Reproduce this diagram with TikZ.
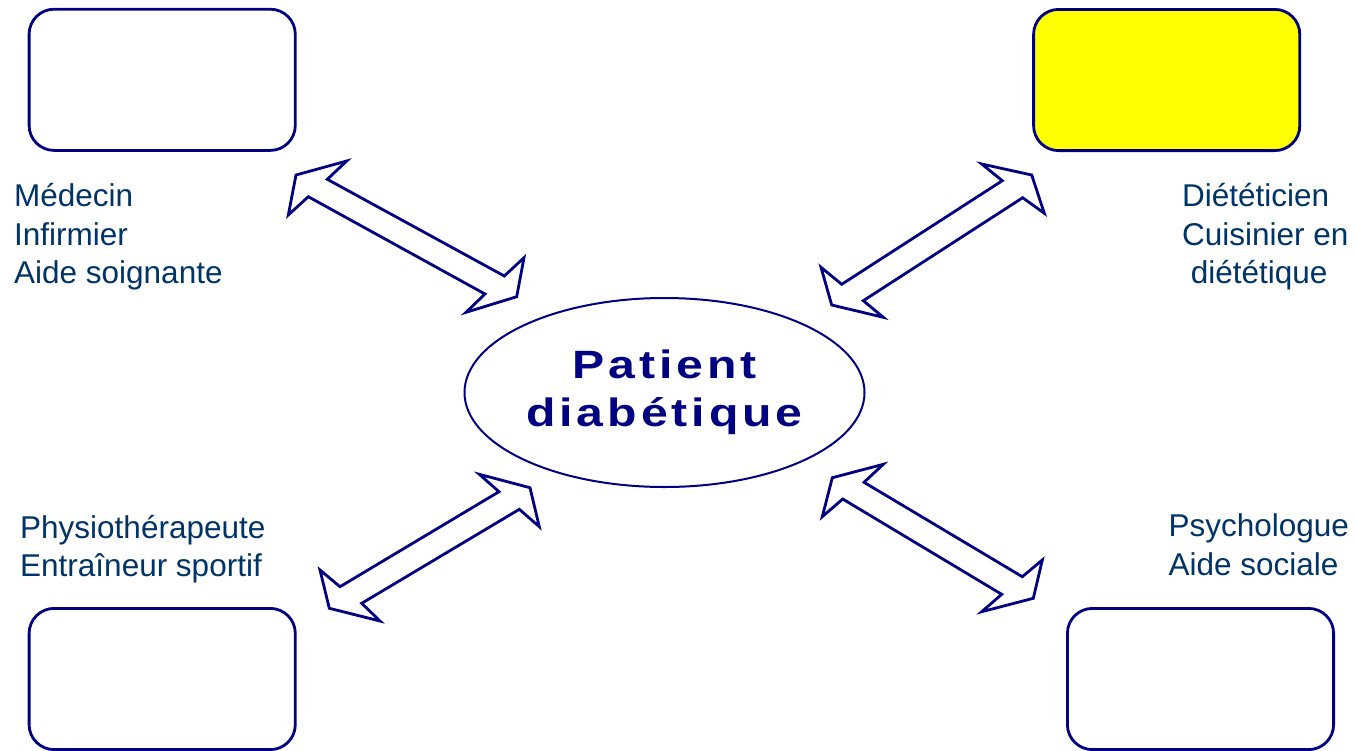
\documentclass[tikz,border=0pt]{standalone}
\usepackage{fontspec}
\setmainfont{Liberation Sans}
\newfontfamily\titlefont[LetterSpace=10,FakeStretch=1.22]{Liberation Sans}
\usetikzlibrary{shapes.geometric}
\definecolor{navy}{RGB}{0,0,128}
\definecolor{txtblue}{RGB}{0,51,102}
\definecolor{boxyellow}{RGB}{255,255,0}
\tikzset{
  roleBox/.style={draw=navy, line width=2.8pt, rounded corners=25pt, minimum width=266.2pt, minimum height=141.2pt, inner sep=0pt, fill=white},
  roleText/.style={text=txtblue, font=\fontsize{31.5}{38}\selectfont, anchor=base west, inner sep=0pt},
  blockArrow/.style={draw=navy, line width=2.8pt, fill=white, line join=miter},
  patientEllipse/.style={ellipse, draw=navy, line width=2pt, minimum width=400pt, minimum height=189pt, inner sep=0pt, text=navy, align=center, font=\titlefont\bfseries\fontsize{39.5}{48.3}\selectfont}
}
\begin{document}
\begin{tikzpicture}[x=1pt,y=-1pt]
\useasboundingbox (0,0) rectangle (1357,750);
\fill[white] (0,0) rectangle (1357,750);

% boxes
\node[roleBox] (tl) at (162.2,79.8) {};
\node[roleBox, fill=boxyellow] (tr) at (1166.7,80) {};
\node[roleBox] (bl) at (162.2,679) {};
\node[roleBox] (br) at (1200.5,679) {};

% central ellipse
\node[patientEllipse] (patient) at (664.5,392.5) {Patient\\diabétique};

% arrows
\draw[blockArrow] (346.7,161) -- (296,175) -- (288.3,215) -- (308.3,196.7) -- (485,294) -- (466,312.3) -- (516.7,296.7) -- (524,257.7) -- (504.3,276) -- (327.3,179.3) -- cycle;
\draw[blockArrow] (981.7,164) -- (1031.7,175) -- (1044.3,213.3) -- (1022.7,197.7) -- (863.3,300.7) -- (883.3,317.3) -- (831.7,305) -- (821,267.3) -- (841.7,284.3) -- (1002.3,180.7) -- cycle;
\draw[blockArrow] (479.3,474.3) -- (530,487.7) -- (539.3,526.7) -- (519.3,509.3) -- (361.7,603.3) -- (380,621) -- (329.3,608.3) -- (320,570) -- (340,586.7) -- (499,491.7) -- cycle;
\draw[blockArrow] (883.3,464.3) -- (832.3,477.7) -- (822.3,516.7) -- (842.7,499) -- (1001.7,594.3) -- (981.7,611.7) -- (1033.3,598.3) -- (1042.3,560) -- (1022.3,576.7) -- (864,482.3) -- cycle;

% texts
\node[roleText] (t1a) at (14,206.7) {Médecin};
\node[roleText] (t1b) at (14,245) {Infirmier};
\node[roleText] (t1c) at (14,283.3) {Aide soignante};

\node[roleText] (t2a) at (1182,206.7) {Diététicien};
\node[roleText] (t2b) at (1182,245) {Cuisinier en};
\node[roleText] (t2c) at (1190.7,283.3) {diététique};

\node[roleText] (t3a) at (20,538.3) {Physiothérapeute};
\node[roleText] (t3b) at (20,576.3) {Entraîneur sportif};

\node[roleText] (t4a) at (1168.3,536.7) {Psychologue};
\node[roleText] (t4b) at (1168.3,575) {Aide sociale};
\end{tikzpicture}
\end{document}
